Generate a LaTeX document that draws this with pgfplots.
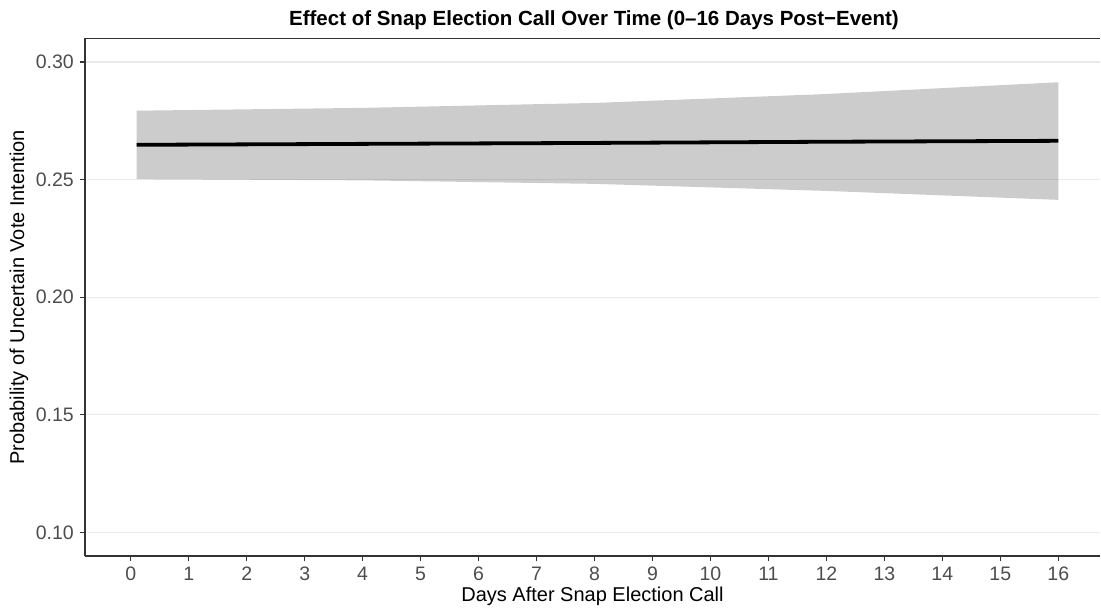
\documentclass[border=0pt]{standalone}
\usepackage{pgfplots}
\pgfplotsset{compat=1.18}
\usepackage{fontspec}
\setmainfont{Liberation Sans}
\definecolor{gridc}{HTML}{EBEBEB}
\definecolor{tickc}{HTML}{4D4D4D}
\definecolor{axc}{HTML}{333333}
\begin{document}
\begin{tikzpicture}
\useasboundingbox (0,0) rectangle (1101pt,612pt);
\begin{axis}[
  at={(85pt,56pt)}, anchor=south west,
  scale only axis, width=1015pt, height=517.5pt,
  xmin=-0.79, xmax=16.72, ymin=0.09, ymax=0.31,
  axis x line*=box, axis y line*=left,
  xtick pos=left, ytick pos=left,
  axis line style={color=axc, line width=1.1pt},
  xtick={0,1,...,16},
  ytick={0.10,0.15,0.20,0.25,0.30},
  yticklabels={0.10,0.15,0.20,0.25,0.30},
  xticklabels={0,1,2,3,4,5,6,7,8,9,10,11,12,13,14,15,16},
  tick align=outside, major tick length=5pt,
  tick style={color=axc, line width=1.1pt},
  ymajorgrids, major grid style={color=gridc, line width=1.1pt},
  xticklabel style={font=\fontsize{19.5}{22}\selectfont, text=tickc, anchor=base, inner sep=0pt, yshift=-20pt},
  yticklabel style={font=\fontsize{19.5}{22}\selectfont, text=tickc, anchor=east, inner sep=0pt, xshift=-6pt},
  xlabel={Days After Snap Election Call},
  ylabel={Probability of Uncertain Vote Intention},
  every axis x label/.style={at={(axis description cs:0.5,0)}, anchor=center, yshift=-40pt, font=\fontsize{20}{22}\selectfont},
  every axis y label/.style={at={(axis description cs:0,0.5)}, anchor=center, xshift=-66pt, rotate=90, font=\fontsize{20}{22}\selectfont},
  title={Effect of Snap Election Call Over Time (0–16 Days Post−Event)},
  title style={at={(axis description cs:0.5,1)}, anchor=center, yshift=12.5pt, xshift=1.5pt, font=\fontsize{20.5}{22}\selectfont\bfseries},
]
\addplot[fill=black, fill opacity=0.2, draw=none] coordinates {(0.1,0.2793) (4,0.2805) (8,0.2826) (12,0.2864) (16,0.2914) (16,0.2414) (12,0.2452) (8,0.2482) (4,0.2497) (0.1,0.2502) (0.1,0.2793)};
\addplot[black, line width=3.8pt] coordinates {(0.1,0.2648) (4,0.2652) (8,0.2656) (12,0.2661) (16,0.2665)};
\end{axis}
\end{tikzpicture}
\end{document}
